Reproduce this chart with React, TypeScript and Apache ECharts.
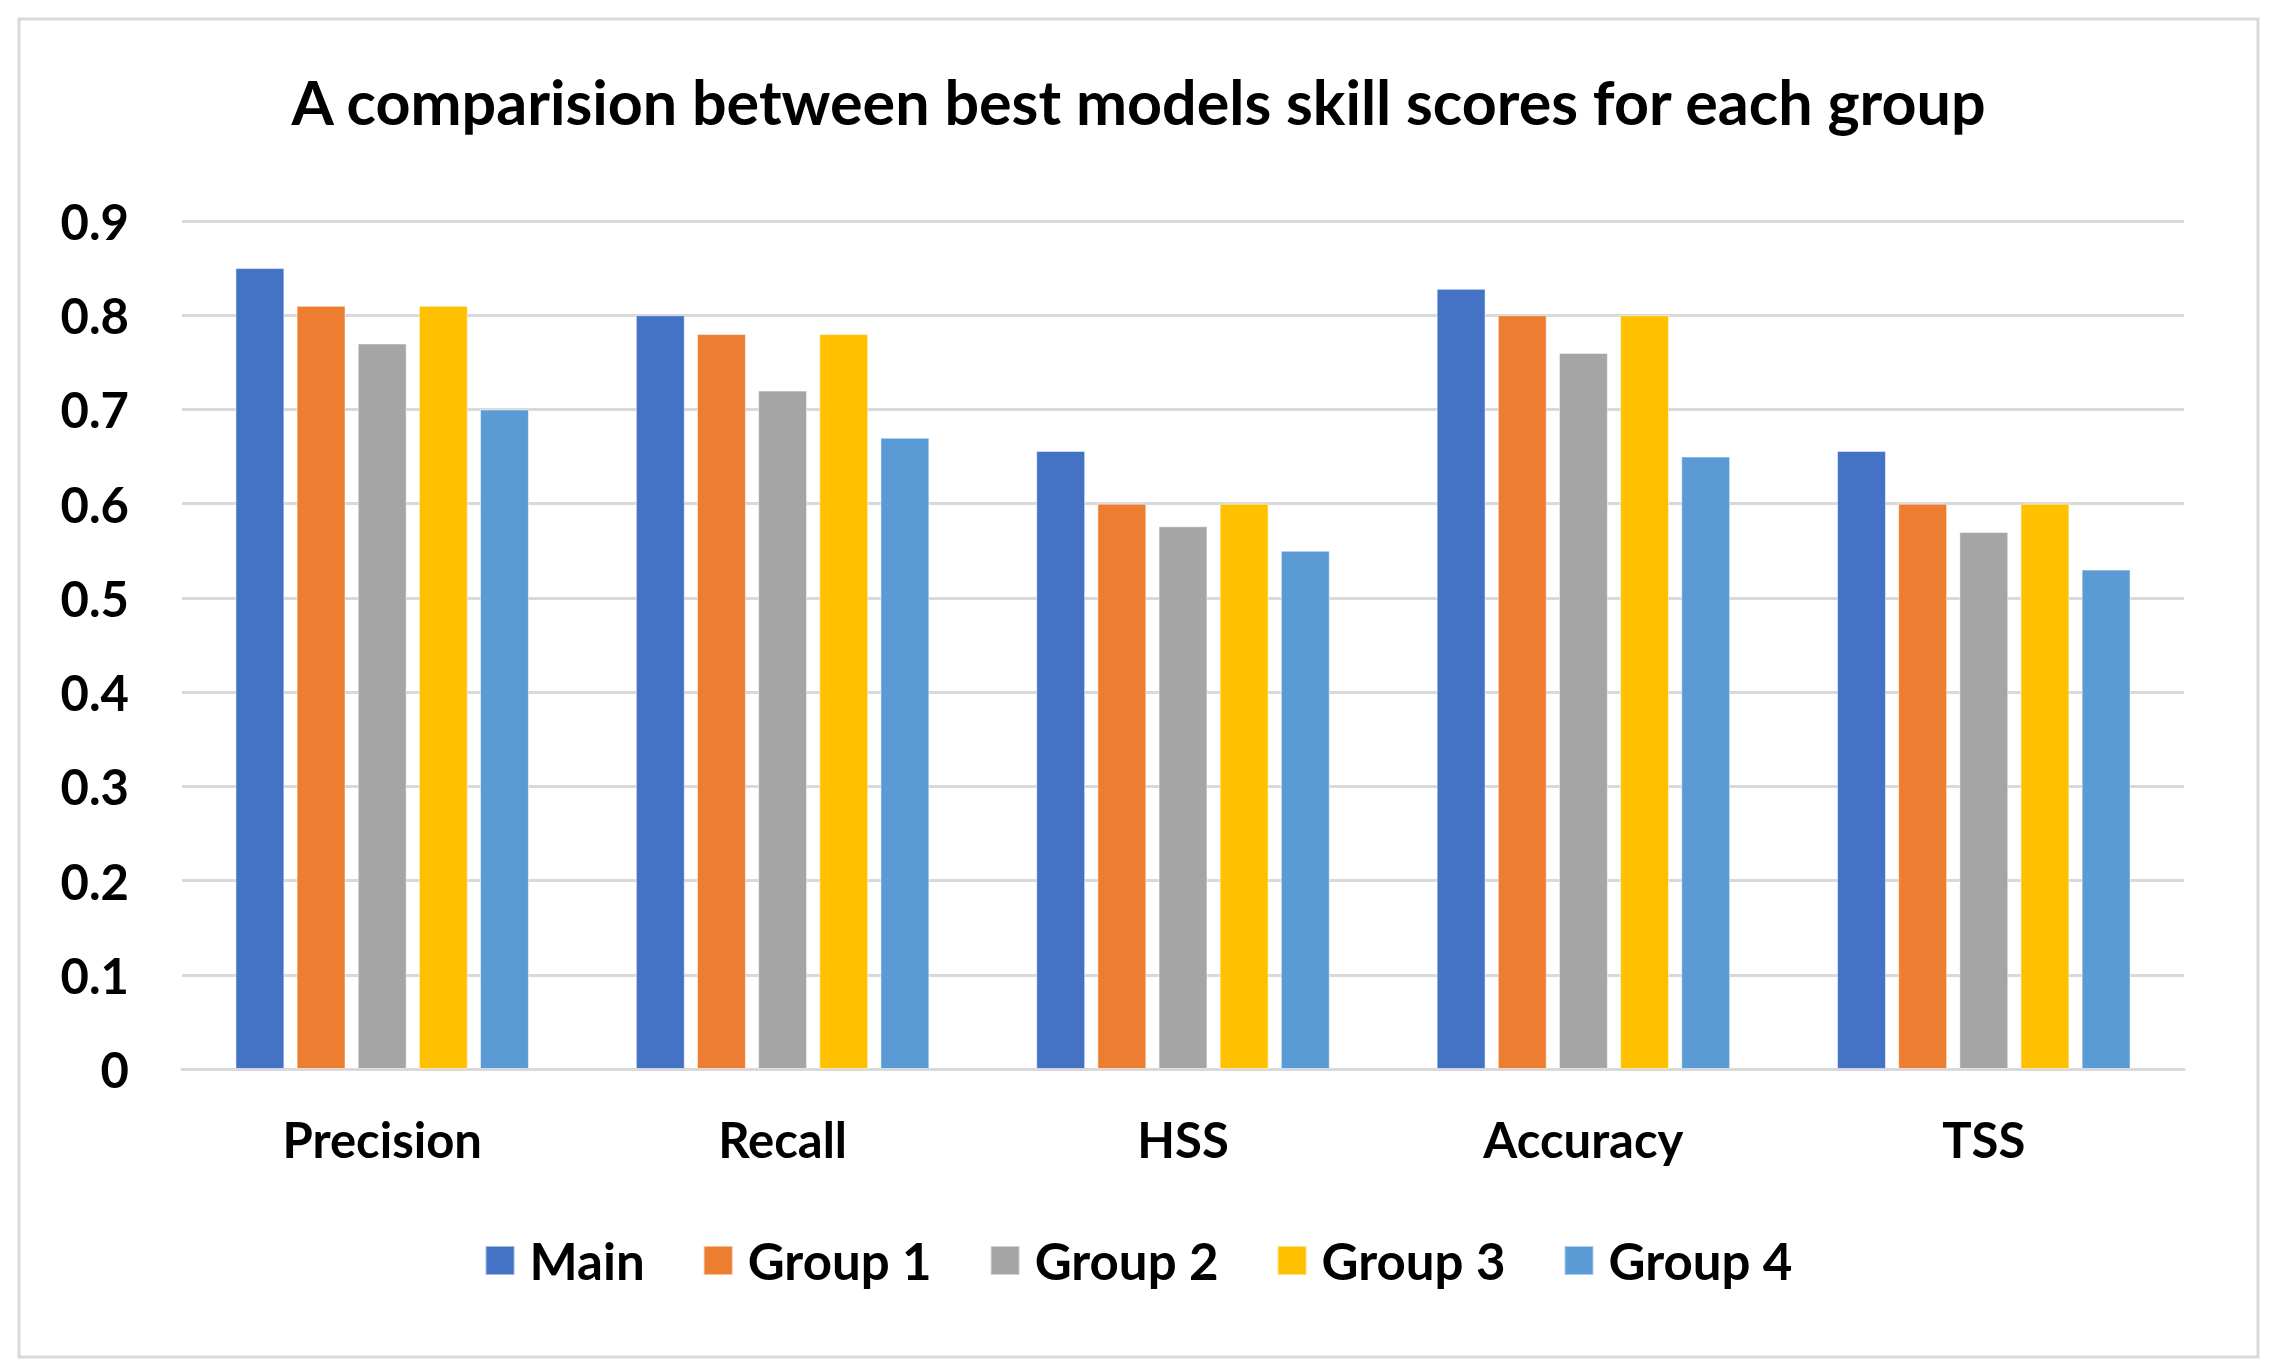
import React, { useEffect, useRef } from "react";
import * as echarts from "echarts";

const titleText = "A comparision between best models skill scores for each group";
const categories = ["Precision", "Recall", "HSS", "Accuracy", "TSS"];
const seriesNames = ["Main", "Group 1", "Group 2", "Group 3", "Group 4"];
const mainValues = [0.85, 0.8, 0.656, 0.828, 0.656];
const group1Values = [0.81, 0.78, 0.6, 0.8, 0.6];
const group2Values = [0.77, 0.72, 0.576, 0.76, 0.57];
const group3Values = [0.81, 0.78, 0.6, 0.8, 0.6];
const group4Values = [0.7, 0.67, 0.55, 0.65, 0.53];
const seriesColors = ["#4472C4", "#ED7D31", "#A5A5A5", "#FFC000", "#5B9BD5"];
const yMin = 0;
const yMax = 0.9;
const yInterval = 0.1;

const FONT = "Lato, 'Open Sans', sans-serif";

export default function App() {
  const ref = useRef<HTMLDivElement>(null);
  useEffect(() => {
    if (!ref.current) return;
    const chart = echarts.init(ref.current, undefined, { renderer: "svg" });
    const allValues = [mainValues, group1Values, group2Values, group3Values, group4Values];
    chart.setOption({
      animation: false,
      backgroundColor: "#ffffff",
      title: {
        text: titleText,
        left: "center",
        top: 66,
        textStyle: { fontFamily: FONT, fontWeight: "bold", fontSize: 61, color: "#000" },
      },
      graphic: [
        {
          type: "rect",
          shape: { x: 19, y: 19, width: 2239, height: 1338 },
          style: { fill: "none", stroke: "#d9d9d9", lineWidth: 3 },
          silent: true,
          z: -1,
        },
      ],
      legend: {
        data: seriesNames,
        bottom: 80,
        left: "center",
        icon: "rect",
        itemWidth: 29,
        itemHeight: 29,
        itemGap: 58,
        textStyle: { fontFamily: FONT, fontWeight: "bold", fontSize: 51, color: "#000", padding: [0, 0, 0, 10] },
      },
      grid: { left: 182, right: 93, top: 221, bottom: 302, containLabel: false },
      xAxis: {
        type: "category",
        data: categories,
        axisTick: { show: false },
        axisLine: { lineStyle: { color: "#d9d9d9", width: 3 } },
        axisLabel: { fontFamily: FONT, fontWeight: "bold", fontSize: 49, color: "#000", margin: 45 },
      },
      yAxis: {
        type: "value",
        min: yMin,
        max: yMax,
        interval: yInterval,
        axisLine: { show: false },
        axisTick: { show: false },
        splitLine: { lineStyle: { color: "#d9d9d9", width: 3 } },
        axisLabel: { fontFamily: FONT, fontWeight: "bold", fontSize: 49, color: "#000", margin: 53 },
      },
      series: seriesNames.map((name, i) => ({
        name,
        type: "bar",
        data: allValues[i],
        barGap: "25%",
        barCategoryGap: "26.7%",
        itemStyle: { color: seriesColors[i], borderColor: "rgba(255,255,255,0.5)", borderWidth: 1 },
      })),
    });
    return () => chart.dispose();
  }, []);
  return (
    <div
      ref={ref}
      style={{ position: "fixed", left: 0, top: 0, width: "2277px", height: "1371px" }}
    />
  );
}
